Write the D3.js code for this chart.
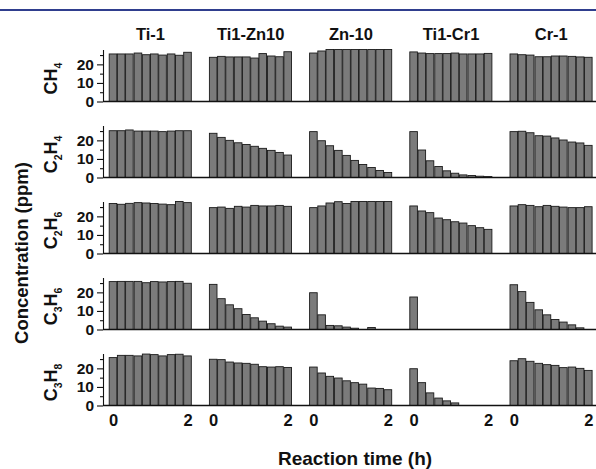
<!DOCTYPE html>
<html>
<head>
<meta charset="utf-8">
<script src="https://cdn.jsdelivr.net/npm/d3@7"></script>
<style>
  body { margin: 0; background: #fff; }
  svg text { font-family: "Liberation Sans", Arial, sans-serif; font-weight: bold; fill: #111; }
</style>
</head>
<body>
<div id="chart"></div>
<script>
'use strict';

// catalysts (columns) and gases (rows)
const columns = ["Ti-1", "Ti1-Zn10", "Zn-10", "Ti1-Cr1", "Cr-1"];
const gases = [
    [["C", ""], ["H", "4"]],
    [["C", "2"], ["H", "4"]],
    [["C", "2"], ["H", "6"]],
    [["C", "3"], ["H", "6"]],
    [["C", "3"], ["H", "8"]]
];
const times = [0, 0.22, 0.44, 0.67, 0.89, 1.11, 1.33, 1.56, 1.78, 2];
const xTicks = [0, 2];
const yMajor = [0, 10, 20];
const yMinor = [5, 15, 25];

// concentration (ppm), one array per gas, one row per catalyst
const ch4 = [
    [25.6, 25.6, 25.6, 26.1, 25.2, 25.6, 25.0, 25.6, 24.9, 26.5],
    [23.8, 24.3, 24.0, 24.0, 24.0, 23.4, 25.8, 24.5, 24.1, 26.8],
    [26.1, 27.2, 28.5, 29.0, 29.0, 29.0, 29.0, 29.0, 29.0, 29.0],
    [26.7, 26.1, 25.8, 25.8, 25.8, 26.1, 25.6, 25.6, 25.6, 25.9],
    [25.6, 25.2, 25.0, 24.1, 24.1, 24.5, 24.5, 24.3, 24.0, 23.8]
];
const c2h4 = [
    [25.2, 25.2, 25.6, 25.0, 25.0, 25.0, 24.7, 25.0, 25.2, 25.2],
    [23.8, 21.6, 20.0, 18.7, 17.8, 16.8, 15.7, 14.6, 13.5, 12.1],
    [24.7, 19.8, 17.1, 14.6, 11.9, 9.2, 7.0, 5.4, 3.8, 2.7],
    [24.7, 14.8, 9.0, 5.9, 3.6, 2.3, 1.4, 1.1, 0.7, 0.5],
    [24.7, 24.9, 24.1, 22.5, 22.3, 21.3, 20.2, 19.1, 18.6, 17.3]
];
const c2h6 = [
    [26.9, 26.5, 27.0, 27.4, 27.2, 26.9, 26.6, 26.3, 28.0, 27.4],
    [24.7, 25.0, 24.3, 25.4, 25.0, 25.9, 25.6, 25.6, 25.9, 25.4],
    [24.7, 25.6, 27.2, 27.9, 26.9, 29.0, 29.0, 29.0, 29.0, 29.0],
    [25.6, 22.9, 22.0, 19.1, 18.2, 17.1, 16.4, 15.0, 13.9, 13.0],
    [25.6, 26.3, 25.9, 25.2, 25.9, 25.4, 25.0, 24.7, 24.7, 25.2]
];
const c3h6 = [
    [25.8, 25.9, 25.9, 25.9, 25.2, 25.8, 25.6, 25.8, 25.9, 24.9],
    [24.3, 16.6, 13.3, 11.2, 8.1, 6.3, 4.5, 3.1, 1.8, 1.3],
    [19.8, 7.9, 2.2, 2.0, 1.3, 0.7, 0, 1.1, 0, 0],
    [17.5, 0, 0, 0, 0, 0, 0, 0, 0, 0],
    [24.1, 20.4, 14.6, 10.6, 7.9, 5.4, 4.0, 2.5, 0.9, 0]
];
const c3h8 = [
    [25.8, 27.0, 27.0, 26.7, 27.7, 27.4, 26.7, 27.4, 27.6, 26.7],
    [24.9, 24.7, 23.4, 22.9, 22.7, 22.2, 20.9, 20.7, 20.9, 20.5],
    [20.7, 17.5, 15.7, 14.8, 13.3, 12.3, 11.5, 9.4, 9.2, 8.5],
    [19.8, 12.3, 6.8, 4.0, 2.5, 1.4, 0, 0, 0, 0],
    [24.1, 25.2, 23.8, 22.7, 22.0, 21.6, 20.4, 20.7, 20.0, 18.9]
];
const rowsData = [ch4, c2h4, c2h6, c3h6, c3h8];

const width = 596, height = 469;
const axisX = 103;
const firstBase = 101.5, rowStep = 76, rowH = 52;
const barW = 7.6;

const svg = d3.select("#chart").append("svg")
    .attr("width", width)
    .attr("height", height);

// journal rule on top
svg.append("line")
    .attr("x1", 0).attr("x2", width)
    .attr("y1", 10).attr("y2", 10)
    .attr("stroke", "#2f3e8e")
    .attr("stroke-width", 2.2);

const panel = d3.scaleBand().domain(columns).range([109, 109 + 100.2 * 5]);
const xt = d3.scaleLinear().domain([0, 2]).range([4, 78.5]);

// column titles
svg.selectAll(".title")
    .data(columns)
    .enter()
    .append("text")
    .attr("x", d => panel(d) + 41.5)
    .attr("y", 40)
    .attr("text-anchor", "middle")
    .attr("font-size", 16.5)
    .text(d => d);

rowsData.forEach(function(rowData, r) {
    let base = firstBase + rowStep * r;
    let y = d3.scaleLinear().domain([0, 28]).range([base, base - rowH]).clamp(true);

    let g = svg.append("g");

    // bars
    rowData.forEach(function(vals, c) {
        let px = panel(columns[c]);
        g.selectAll(".bar" + c)
            .data(vals.map((v, i) => ({ t: times[i], v: v })).filter(d => d.v > 0))
            .enter()
            .append("rect")
            .attr("x", d => px + xt(d.t) - barW / 2)
            .attr("y", d => y(d.v))
            .attr("width", barW)
            .attr("height", d => base - y(d.v))
            .attr("fill", "#7b7b7b")
            .attr("stroke", "#1a1a1a")
            .attr("stroke-width", 0.9);
    });

    // baseline across all panels
    g.append("line")
        .attr("x1", axisX).attr("x2", width)
        .attr("y1", base).attr("y2", base)
        .attr("stroke", "#111")
        .attr("stroke-width", 1.3);

    // y axis: major + minor ticks
    let ax = g.append("g")
        .attr("transform", "translate(" + axisX + ",0)")
        .call(d3.axisLeft(y).tickValues(yMajor).tickSize(6).tickSizeOuter(0).tickPadding(3));
    ax.select(".domain").attr("stroke", "#111").attr("stroke-width", 1.1);
    ax.selectAll(".tick line").attr("stroke", "#111").attr("stroke-width", 1.1);
    ax.selectAll("text")
        .attr("font-size", 15.5)
        .attr("font-family", "Liberation Sans, Arial, sans-serif")
        .attr("fill", "#111");

    let axm = g.append("g")
        .attr("transform", "translate(" + axisX + ",0)")
        .call(d3.axisLeft(y).tickValues(yMinor).tickSize(3).tickSizeOuter(0).tickFormat(""));
    axm.select(".domain").remove();
    axm.selectAll(".tick line").attr("stroke", "#111").attr("stroke-width", 1.1);

    // gas label, rotated with subscripts
    let lbl = g.append("text")
        .attr("transform", "translate(57," + (base - 23) + ") rotate(-90)")
        .attr("text-anchor", "middle")
        .attr("font-size", 18);
    let shift = 0;
    gases[r].forEach(function(part) {
        lbl.append("tspan").attr("dy", -shift).text(part[0]);
        shift = 0;
        if (part[1]) {
            lbl.append("tspan").attr("dy", 5).attr("font-size", 10.5).text(part[1]);
            shift = 5;
        }
    });

    // x ticks on the last row
    if (r === rowsData.length - 1) {
        columns.forEach(function(col) {
            let xa = g.append("g")
                .attr("transform", "translate(" + panel(col) + "," + base + ")")
                .call(d3.axisBottom(xt).tickValues(xTicks).tickSize(0).tickPadding(9).tickFormat(d3.format("d")));
            xa.select(".domain").remove();
            xa.selectAll("text")
                .attr("font-size", 16.5)
                .attr("font-family", "Liberation Sans, Arial, sans-serif")
                .attr("fill", "#111");
        });
    }
});

// axis titles
svg.append("text")
    .attr("transform", "translate(28,253) rotate(-90)")
    .attr("text-anchor", "middle")
    .attr("font-size", 18.5)
    .text("Concentration (ppm)");

svg.append("text")
    .attr("x", 355)
    .attr("y", 465)
    .attr("text-anchor", "middle")
    .attr("font-size", 19)
    .text("Reaction time (h)");
</script>
</body>
</html>
